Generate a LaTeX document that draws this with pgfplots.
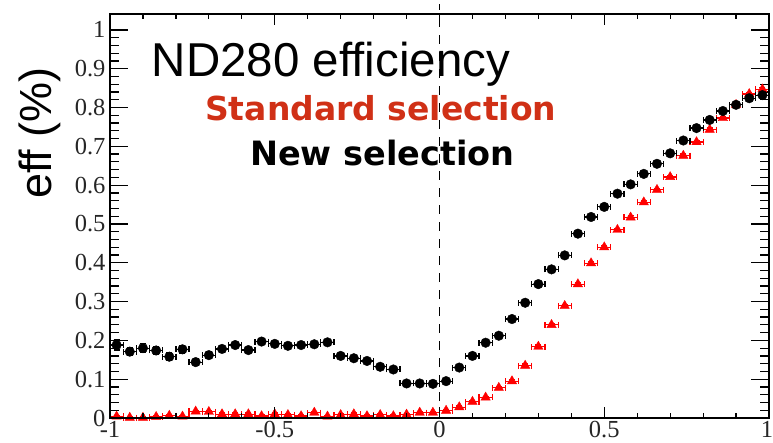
\documentclass[border=0pt]{standalone}
\usepackage{fontspec}
\usepackage{pgfplots}
\usepackage{pgfplotstable}
\pgfplotsset{compat=1.18}
\setmainfont{Liberation Serif}
\newfontfamily\arialfont{Liberation Sans}[Ligatures=NoCommon]
\newfontfamily\dejavufont{DejaVu Sans}
\definecolor{stdred}{RGB}{208,48,22}

% efficiency per bin: x = bin centre, ex = half bin width, ey = stat. error
\pgfplotstableread{
x      y      ex    ey
-0.98  0.188  0.02  0.013
-0.94  0.171  0.02  0.010
-0.90  0.180  0.02  0.012
-0.86  0.174  0.02  0.010
-0.82  0.158  0.02  0.010
-0.78  0.177  0.02  0.010
-0.74  0.144  0.02  0.008
-0.70  0.162  0.02  0.008
-0.66  0.178  0.02  0.008
-0.62  0.188  0.02  0.007
-0.58  0.175  0.02  0.007
-0.54  0.197  0.02  0.007
-0.50  0.191  0.02  0.006
-0.46  0.186  0.02  0.006
-0.42  0.188  0.02  0.006
-0.38  0.190  0.02  0.006
-0.34  0.195  0.02  0.006
-0.30  0.160  0.02  0.006
-0.26  0.154  0.02  0.005
-0.22  0.147  0.02  0.005
-0.18  0.132  0.02  0.005
-0.14  0.125  0.02  0.005
-0.10  0.089  0.02  0.005
-0.06  0.089  0.02  0.005
-0.02  0.088  0.02  0.005
 0.02  0.095  0.02  0.005
 0.06  0.130  0.02  0.005
 0.10  0.160  0.02  0.005
 0.14  0.194  0.02  0.005
 0.18  0.212  0.02  0.005
 0.22  0.255  0.02  0.005
 0.26  0.297  0.02  0.005
 0.30  0.345  0.02  0.005
 0.34  0.383  0.02  0.005
 0.38  0.419  0.02  0.005
 0.42  0.475  0.02  0.005
 0.46  0.518  0.02  0.005
 0.50  0.544  0.02  0.005
 0.54  0.578  0.02  0.005
 0.58  0.602  0.02  0.005
 0.62  0.629  0.02  0.005
 0.66  0.655  0.02  0.005
 0.70  0.682  0.02  0.005
 0.74  0.715  0.02  0.005
 0.78  0.747  0.02  0.005
 0.82  0.768  0.02  0.005
 0.86  0.791  0.02  0.005
 0.90  0.807  0.02  0.005
 0.94  0.824  0.02  0.005
 0.98  0.832  0.02  0.005
}\newsel

\pgfplotstableread{
x      y      ex    ey
-0.98  0.004  0.02  0.003
-0.94  0.001  0.02  0.003
-0.90  0.001  0.02  0.003
-0.86  0.003  0.02  0.003
-0.82  0.006  0.02  0.003
-0.78  0.004  0.02  0.003
-0.74  0.017  0.02  0.003
-0.70  0.016  0.02  0.003
-0.66  0.010  0.02  0.003
-0.62  0.010  0.02  0.003
-0.58  0.010  0.02  0.003
-0.54  0.005  0.02  0.003
-0.50  0.010  0.02  0.003
-0.46  0.008  0.02  0.003
-0.42  0.005  0.02  0.003
-0.38  0.014  0.02  0.003
-0.34  0.004  0.02  0.003
-0.30  0.008  0.02  0.003
-0.26  0.010  0.02  0.003
-0.22  0.005  0.02  0.003
-0.18  0.008  0.02  0.003
-0.14  0.005  0.02  0.003
-0.10  0.009  0.02  0.003
-0.06  0.014  0.02  0.003
-0.02  0.014  0.02  0.003
 0.02  0.019  0.02  0.003
 0.06  0.028  0.02  0.003
 0.10  0.042  0.02  0.003
 0.14  0.053  0.02  0.003
 0.18  0.078  0.02  0.003
 0.22  0.095  0.02  0.004
 0.26  0.135  0.02  0.004
 0.30  0.184  0.02  0.004
 0.34  0.240  0.02  0.004
 0.38  0.289  0.02  0.004
 0.42  0.345  0.02  0.004
 0.46  0.399  0.02  0.004
 0.50  0.440  0.02  0.004
 0.54  0.485  0.02  0.004
 0.58  0.517  0.02  0.004
 0.62  0.556  0.02  0.004
 0.66  0.588  0.02  0.004
 0.70  0.621  0.02  0.004
 0.74  0.676  0.02  0.004
 0.78  0.711  0.02  0.004
 0.82  0.743  0.02  0.004
 0.86  0.773  0.02  0.004
 0.90  0.807  0.02  0.004
 0.94  0.835  0.02  0.004
 0.98  0.847  0.02  0.004
}\stdsel

\pgfplotsset{
  frame/.style={
    scale only axis,
    width=659pt, height=404pt,
    xmin=-1, xmax=1, ymin=0, ymax=1.041,
    axis line style={line width=1.5pt},
    tick style={line width=1.2pt, black},
    /pgf/number format/assume math mode=true,
    tick label style={font=\fontsize{24.5}{26}\selectfont, text=black!85},
  },
}

\begin{document}
\begin{tikzpicture}
% y axis ticks (long) and the data
\begin{axis}[
  frame, name=ax,
  xtick=\empty,
  ytick={0,0.1,0.2,0.3,0.4,0.5,0.6,0.7,0.8,0.9,1},
  minor y tick num=4,
  major tick length=18pt, minor tick length=9pt,
  yticklabel style={xshift=-1pt},
  clip=false,
]
\draw[dash pattern=on 9pt off 8pt, line width=0.8pt] (axis cs:0,0) -- (axis cs:0,1.066);

\addplot[only marks, red, mark=triangle*, mark size=5.4pt,
  error bars/.cd, x dir=both, x explicit, y dir=both, y explicit,
  error mark=|,
  error bar style={line width=1.2pt, red},
  error mark options={mark size=3pt, line width=1.2pt, red}]
  table[x=x, y=y, x error=ex, y error=ey] {\stdsel};

\addplot[only marks, black, mark=*, mark size=4.8pt,
  error bars/.cd, x dir=both, x explicit, y dir=both, y explicit,
  error mark=|,
  error bar style={line width=1.2pt, black},
  error mark options={mark size=3pt, line width=1.2pt, black}]
  table[x=x, y=y, x error=ex, y error=ey] {\newsel};

\node[anchor=base west, inner sep=0pt, font=\arialfont\fontsize{47.5}{50}\selectfont]
  at (rel axis cs:0.0633,0.8465) {ND280 efficiency};
\node[anchor=base west, inner sep=0pt, text=stdred, font=\dejavufont\bfseries\fontsize{33}{36}\selectfont]
  at (rel axis cs:0.1442,0.7376) {Standard selection};
\node[anchor=base west, inner sep=0pt, font=\dejavufont\bfseries\fontsize{33.5}{36}\selectfont]
  at (rel axis cs:0.2124,0.626) {New selection};
\end{axis}
% x axis ticks (short)
\begin{axis}[
  frame,
  ytick=\empty,
  xtick={-1,-0.5,0,0.5,1},
  xticklabels={-1,-0.5,0,0.5,{\hspace*{-4pt}1}},
  minor x tick num=4,
  major tick length=11pt, minor tick length=5.5pt,
]
\end{axis}
\node[rotate=90, inner sep=0pt, font=\arialfont\fontsize{45}{48}\selectfont]
  at ([shift={(-70pt,285pt)}]ax.south west) {eff (\%)};
\pgfresetboundingbox
\path[use as bounding box] ([shift={(-110pt,-24pt)}]ax.south west) rectangle ([shift={(4pt,14pt)}]ax.north east);
\end{tikzpicture}
\end{document}
